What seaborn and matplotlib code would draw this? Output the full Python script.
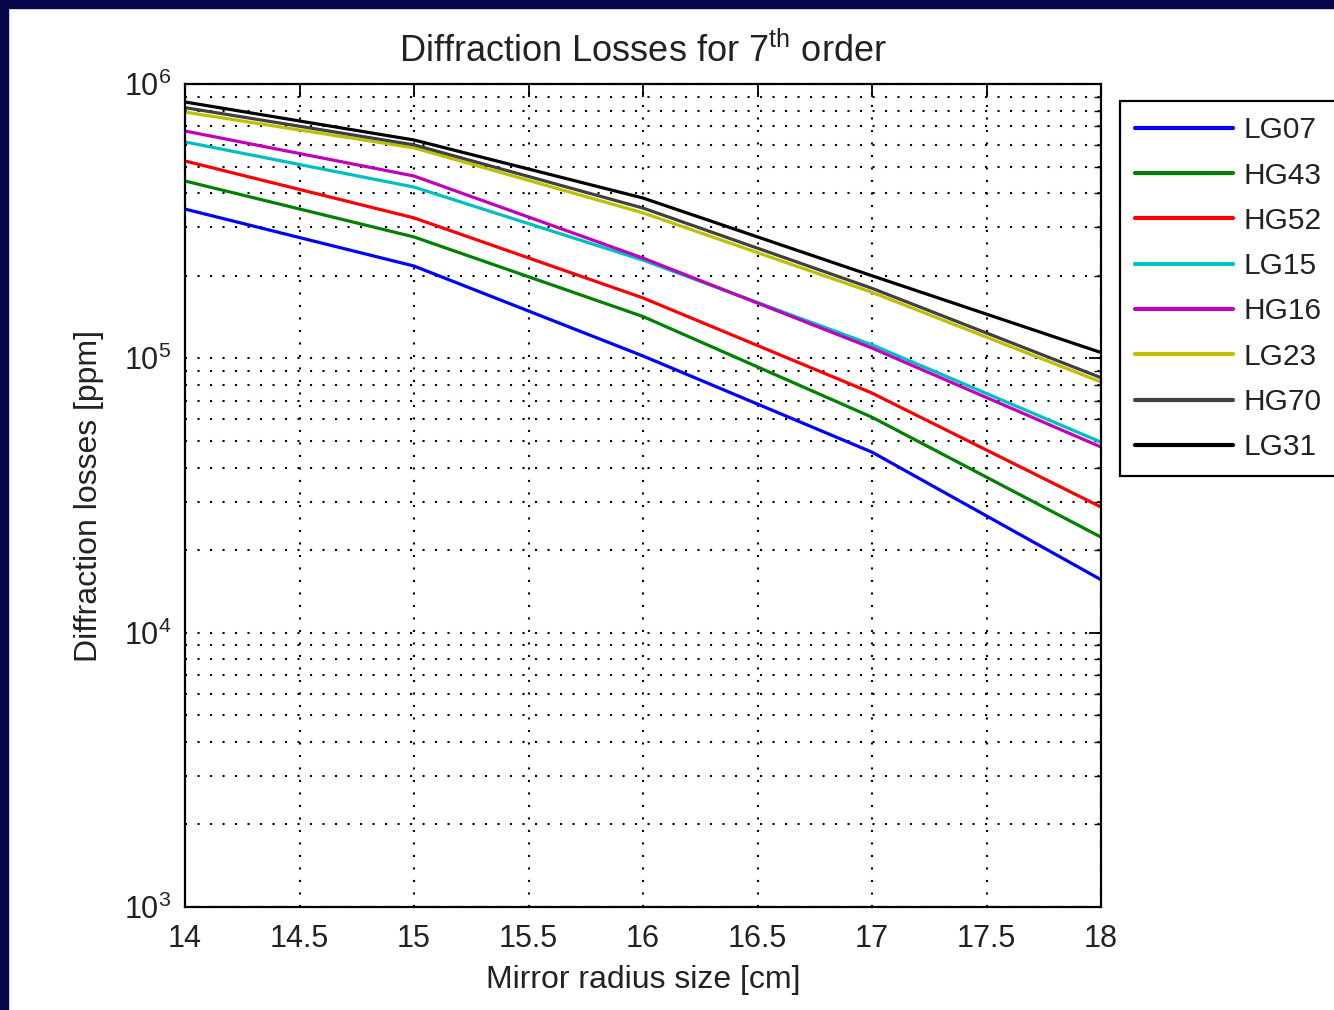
import numpy as np
import pandas as pd
import matplotlib
matplotlib.use("Agg")
import matplotlib.pyplot as plt
from matplotlib import font_manager as fm
from matplotlib.ticker import LogLocator, NullFormatter, FixedLocator
from matplotlib.lines import Line2D
import seaborn as sns

radius = [14, 15, 16, 17, 18]
modes = ["LG07", "HG43", "HG52", "LG15", "HG16", "LG23", "HG70", "LG31"]
LG07 = [3.5e5, 2.17e5, 1.02e5, 4.55e4, 1.56e4]
HG43 = [4.43e5, 2.77e5, 1.42e5, 6.1e4, 2.23e4]
HG52 = [5.24e5, 3.25e5, 1.66e5, 7.47e4, 2.87e4]
LG15 = [6.15e5, 4.21e5, 2.28e5, 1.12e5, 4.95e4]
HG16 = [6.74e5, 4.62e5, 2.32e5, 1.09e5, 4.75e4]
LG23 = [7.9e5, 5.85e5, 3.39e5, 1.74e5, 8.2e4]
HG70 = [8.2e5, 6.0e5, 3.53e5, 1.8e5, 8.5e4]
LG31 = [8.6e5, 6.25e5, 3.84e5, 2.0e5, 1.05e5]
series = [LG07, HG43, HG52, LG15, HG16, LG23, HG70, LG31]
colors = ["#0000ff", "#008000", "#ff0000", "#00bfbf", "#bf00bf", "#bfbf00", "#404040", "#000000"]
xticks = [14, 14.5, 15, 15.5, 16, 16.5, 17, 17.5, 18]

rows = []
for m, vals in zip(modes, series):
    for r, v in zip(radius, vals):
        rows.append({"radius": r, "loss": v, "mode": m})
df = pd.DataFrame(rows)

sns.set_theme(style="white")
names = {f.name for f in fm.fontManager.ttflist}
if "Liberation Sans Narrow" in names:
    fam = "Liberation Sans Narrow"; k = 1.22
else:
    fam = "Liberation Sans"; k = 1.0
plt.rcParams["font.family"] = [fam, "DejaVu Sans"]
plt.rcParams["mathtext.fontset"] = "custom"
plt.rcParams["mathtext.rm"] = fam
plt.rcParams["mathtext.it"] = fam
plt.rcParams["mathtext.bf"] = fam
plt.rcParams["mathtext.sf"] = fam

fig = plt.figure(figsize=(13.34, 10.10), dpi=100)
fig.patch.set_facecolor("white")
ax = fig.add_axes([185/1334, 1-907/1010, (1101-185)/1334, (907-84)/1010])

sns.lineplot(data=df, x="radius", y="loss", hue="mode", hue_order=modes,
             palette=dict(zip(modes, colors)), linewidth=2.3, ax=ax, legend=False)

ax.set_yscale("log")
ax.set_xlim(14, 18)
ax.set_ylim(1e3, 1e6)
ax.xaxis.set_major_locator(FixedLocator(xticks))
ax.set_xticklabels([f"{t:g}" for t in xticks])
ax.yaxis.set_major_locator(LogLocator(base=10, numticks=10))
ax.yaxis.set_minor_locator(LogLocator(base=10, subs=np.arange(2, 10), numticks=20))
ax.yaxis.set_minor_formatter(NullFormatter())

grid_style = dict(color="black", linestyle=(0, (1, 5)), linewidth=1.5)
ax.grid(True, which="major", axis="both", **grid_style)
ax.grid(True, which="minor", axis="y", **grid_style)

ax.tick_params(axis="both", which="both", direction="in", top=True, right=True,
               colors="black", labelcolor="#222222")
ax.tick_params(axis="both", which="major", length=9, width=1.3, labelsize=22*k, pad=10)
ax.tick_params(axis="y", which="minor", length=5, width=1.0)
ax.tick_params(axis="x", which="major", pad=12)
for s in ax.spines.values():
    s.set_color("black")
    s.set_linewidth(1.6)

ax.set_xlabel("Mirror radius size [cm]", fontsize=23*k, color="#222222", labelpad=8)
ax.set_ylabel("Diffraction losses [ppm]", fontsize=23*k, color="#222222", labelpad=14)
ax.set_title(r"Diffraction Losses for 7$^{\mathrm{th}}$ order", fontsize=26*k,
             color="#222222", pad=16)

handles = [Line2D([], [], color=c, linewidth=3) for c in colors]
leg = ax.legend(handles, modes, loc="upper left", bbox_to_anchor=(1.0207, 0.979),
                fontsize=21.5*k, frameon=True, fancybox=False, borderaxespad=0,
                handlelength=3.3, handletextpad=0.35, labelspacing=0.58,
                borderpad=0.5)
leg.get_frame().set_edgecolor("black")
leg.get_frame().set_linewidth(1.6)
leg.get_frame().set_alpha(1)
for t in leg.get_texts():
    t.set_color("#222222")

navy = "#07074a"
fig.patches.append(plt.Rectangle((0, 0), 8/1334, 1, transform=fig.transFigure,
                                 color=navy, zorder=10))
fig.patches.append(plt.Rectangle((0, 1-8/1010), 1, 8/1010, transform=fig.transFigure,
                                 color=navy, zorder=10))

fig.savefig("out.png", dpi=100, facecolor="white")
